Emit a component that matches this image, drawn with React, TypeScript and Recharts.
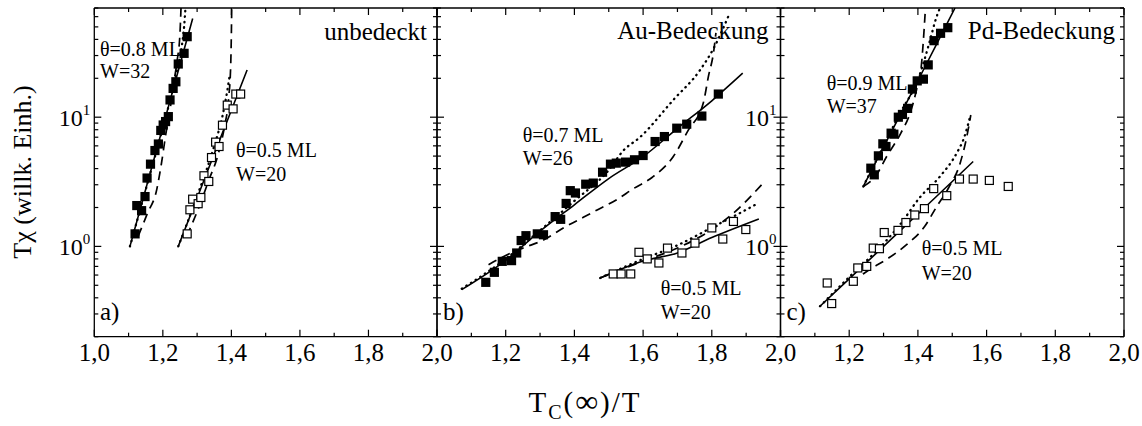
import React from 'react';
import { ComposedChart, Line, Scatter, XAxis, YAxis } from 'recharts';

const W = 1142;
const H = 426;
const PLOT_TOP = 8;
const PLOT_BOTTOM = 336.7;
const FONT = '"Liberation Serif", "Times New Roman", Times, serif';

type P = { x: number; y: number };

// ---------- tick values ----------
const xTickValues = [1.0, 1.1, 1.2, 1.3, 1.4, 1.5, 1.6, 1.7, 1.8, 1.9, 2.0];
const yTickValues = [0.2, 0.3, 0.4, 0.5, 0.6, 0.7, 0.8, 0.9, 1, 2, 3, 4, 5, 6, 7, 8, 9, 10, 20, 30, 40, 50, 60, 70];

// ---------- panel a (unbedeckt) ----------
const aFilled: P[] = [
  { x: 1.119, y: 1.25 }, { x: 1.124, y: 2.07 }, { x: 1.138, y: 1.89 }, { x: 1.148, y: 2.43 },
  { x: 1.154, y: 3.38 }, { x: 1.164, y: 4.33 }, { x: 1.177, y: 5.52 }, { x: 1.187, y: 6.2 },
  { x: 1.194, y: 7.9 }, { x: 1.201, y: 8.7 }, { x: 1.208, y: 9.25 }, { x: 1.216, y: 10.1 },
  { x: 1.221, y: 13.6 }, { x: 1.23, y: 16.7 }, { x: 1.238, y: 18.8 }, { x: 1.245, y: 25.8 },
  { x: 1.262, y: 31.2 }, { x: 1.271, y: 42 },
];
const aOpen: P[] = [
  { x: 1.271, y: 1.25 }, { x: 1.279, y: 1.92 }, { x: 1.287, y: 2.32 }, { x: 1.303, y: 2.14 },
  { x: 1.311, y: 2.39 }, { x: 1.32, y: 3.52 }, { x: 1.334, y: 3.18 }, { x: 1.342, y: 4.87 },
  { x: 1.354, y: 6.41 }, { x: 1.364, y: 5.93 }, { x: 1.374, y: 8.67 }, { x: 1.388, y: 12.4 },
  { x: 1.405, y: 11.6 }, { x: 1.413, y: 15.1 }, { x: 1.427, y: 15.1 },
];
const aFilledSolid: P[] = [
  { x: 1.104, y: 1.0 }, { x: 1.15, y: 2.77 }, { x: 1.2, y: 8.4 }, { x: 1.25, y: 25.6 }, { x: 1.287, y: 58 },
];
const aFilledDashed: P[] = [
  { x: 1.128, y: 1.2 }, { x: 1.155, y: 1.8 }, { x: 1.182, y: 2.74 }, { x: 1.196, y: 4.4 },
  { x: 1.209, y: 7.5 }, { x: 1.221, y: 11.4 }, { x: 1.23, y: 17.2 }, { x: 1.242, y: 27.7 },
  { x: 1.25, y: 44.6 }, { x: 1.253, y: 70 },
];
const aFilledDotted: P[] = [
  { x: 1.104, y: 1.0 }, { x: 1.15, y: 2.75 }, { x: 1.2, y: 8.3 }, { x: 1.24, y: 22 },
  { x: 1.255, y: 35 }, { x: 1.262, y: 50 }, { x: 1.266, y: 70 },
];
const aOpenSolid: P[] = [
  { x: 1.245, y: 1.0 }, { x: 1.3, y: 2.37 }, { x: 1.35, y: 5.2 }, { x: 1.4, y: 11.3 }, { x: 1.446, y: 23.2 },
];
const aOpenDashed: P[] = [
  { x: 1.27, y: 1.2 }, { x: 1.308, y: 2.1 }, { x: 1.335, y: 3.3 }, { x: 1.36, y: 5.0 },
  { x: 1.38, y: 8.5 }, { x: 1.392, y: 14 }, { x: 1.398, y: 25 }, { x: 1.4, y: 45 }, { x: 1.401, y: 70 },
];
const aOpenDotted: P[] = [
  { x: 1.245, y: 1.0 }, { x: 1.3, y: 2.45 }, { x: 1.35, y: 6.0 }, { x: 1.375, y: 10.5 },
  { x: 1.388, y: 16 }, { x: 1.395, y: 21 },
];

// ---------- panel b (Au-Bedeckung) ----------
const bFilled: P[] = [
  { x: 1.142, y: 0.527 }, { x: 1.167, y: 0.63 }, { x: 1.19, y: 0.766 }, { x: 1.217, y: 0.776 },
  { x: 1.232, y: 0.889 }, { x: 1.245, y: 1.11 }, { x: 1.259, y: 1.21 }, { x: 1.292, y: 1.25 },
  { x: 1.31, y: 1.23 }, { x: 1.344, y: 1.7 }, { x: 1.36, y: 1.62 }, { x: 1.376, y: 2.15 },
  { x: 1.388, y: 2.7 }, { x: 1.403, y: 2.59 }, { x: 1.433, y: 3.03 }, { x: 1.455, y: 3.09 },
  { x: 1.482, y: 3.75 }, { x: 1.505, y: 4.33 }, { x: 1.522, y: 4.41 }, { x: 1.549, y: 4.49 },
  { x: 1.575, y: 4.68 }, { x: 1.6, y: 5.05 }, { x: 1.635, y: 6.48 }, { x: 1.662, y: 7.08 },
  { x: 1.698, y: 8.22 }, { x: 1.727, y: 8.83 }, { x: 1.771, y: 10.2 }, { x: 1.819, y: 15.1 },
];
const bOpen: P[] = [
  { x: 1.513, y: 0.612 }, { x: 1.536, y: 0.612 }, { x: 1.564, y: 0.612 }, { x: 1.588, y: 0.9 },
  { x: 1.612, y: 0.8 }, { x: 1.646, y: 0.744 }, { x: 1.671, y: 0.97 }, { x: 1.713, y: 0.889 },
  { x: 1.751, y: 1.06 }, { x: 1.8, y: 1.39 }, { x: 1.832, y: 1.14 }, { x: 1.863, y: 1.56 },
  { x: 1.899, y: 1.35 },
];
const bFilledSolid: P[] = [
  { x: 1.072, y: 0.463 }, { x: 1.2, y: 0.78 }, { x: 1.3, y: 1.31 }, { x: 1.4, y: 2.1 },
  { x: 1.5, y: 3.35 }, { x: 1.6, y: 4.95 }, { x: 1.7, y: 8.2 }, { x: 1.8, y: 13.4 }, { x: 1.89, y: 21.9 },
];
const bFilledDashed: P[] = [
  { x: 1.15, y: 0.72 }, { x: 1.2, y: 0.85 }, { x: 1.25, y: 0.97 }, { x: 1.31, y: 1.12 },
  { x: 1.37, y: 1.4 }, { x: 1.426, y: 1.68 }, { x: 1.472, y: 1.95 }, { x: 1.523, y: 2.3 },
  { x: 1.572, y: 2.8 }, { x: 1.625, y: 3.4 }, { x: 1.688, y: 4.96 }, { x: 1.732, y: 7.98 },
  { x: 1.775, y: 12.8 }, { x: 1.79, y: 20.6 }, { x: 1.806, y: 33 }, { x: 1.812, y: 45 },
];
const bFilledDotted: P[] = [
  { x: 1.072, y: 0.47 }, { x: 1.2, y: 0.8 }, { x: 1.3, y: 1.33 }, { x: 1.4, y: 2.25 },
  { x: 1.5, y: 3.9 }, { x: 1.542, y: 5.5 }, { x: 1.591, y: 7.0 }, { x: 1.688, y: 13.6 },
  { x: 1.766, y: 23.2 }, { x: 1.805, y: 34 }, { x: 1.85, y: 62 },
];
const bOpenSolid: P[] = [
  { x: 1.475, y: 0.57 }, { x: 1.6, y: 0.77 }, { x: 1.7, y: 0.89 }, { x: 1.8, y: 1.17 }, { x: 1.937, y: 1.63 },
];
const bOpenDashed: P[] = [
  { x: 1.475, y: 0.57 }, { x: 1.6, y: 0.77 }, { x: 1.7, y: 0.97 }, { x: 1.8, y: 1.35 },
  { x: 1.863, y: 1.81 }, { x: 1.95, y: 3.1 },
];
const bOpenDotted: P[] = [
  { x: 1.475, y: 0.57 }, { x: 1.6, y: 0.8 }, { x: 1.7, y: 1.02 }, { x: 1.8, y: 1.4 },
  { x: 1.88, y: 1.8 }, { x: 1.935, y: 2.16 },
];

// ---------- panel c (Pd-Bedeckung) ----------
const cFilled: P[] = [
  { x: 1.263, y: 4.03 }, { x: 1.273, y: 3.58 }, { x: 1.285, y: 5.02 }, { x: 1.298, y: 6.22 },
  { x: 1.307, y: 5.93 }, { x: 1.322, y: 7.52 }, { x: 1.33, y: 7.39 }, { x: 1.343, y: 10.0 },
  { x: 1.355, y: 10.5 }, { x: 1.37, y: 11.7 }, { x: 1.384, y: 16.5 }, { x: 1.398, y: 19.1 },
  { x: 1.416, y: 19.7 }, { x: 1.43, y: 25.4 }, { x: 1.447, y: 39.1 }, { x: 1.466, y: 44.6 },
  { x: 1.487, y: 49.3 },
];
const cOpen: P[] = [
  { x: 1.136, y: 0.521 }, { x: 1.149, y: 0.361 }, { x: 1.212, y: 0.537 }, { x: 1.225, y: 0.681 },
  { x: 1.251, y: 0.7 }, { x: 1.27, y: 0.97 }, { x: 1.288, y: 0.96 }, { x: 1.302, y: 1.28 },
  { x: 1.342, y: 1.33 }, { x: 1.365, y: 1.53 }, { x: 1.391, y: 1.75 }, { x: 1.419, y: 1.96 },
  { x: 1.446, y: 2.8 }, { x: 1.484, y: 2.47 }, { x: 1.521, y: 3.32 }, { x: 1.561, y: 3.32 },
  { x: 1.608, y: 3.24 }, { x: 1.663, y: 2.91 },
];
const cFilledSolid: P[] = [
  { x: 1.241, y: 2.91 }, { x: 1.3, y: 5.9 }, { x: 1.35, y: 10.6 }, { x: 1.4, y: 19.2 },
  { x: 1.45, y: 34.8 }, { x: 1.508, y: 70 },
];
const cFilledDashed: P[] = [
  { x: 1.241, y: 2.91 }, { x: 1.28, y: 3.6 }, { x: 1.309, y: 4.96 }, { x: 1.35, y: 7.5 },
  { x: 1.377, y: 10.7 }, { x: 1.396, y: 16.3 }, { x: 1.41, y: 25 }, { x: 1.416, y: 39.5 }, { x: 1.422, y: 70 },
];
const cFilledDotted: P[] = [
  { x: 1.241, y: 2.91 }, { x: 1.3, y: 6.0 }, { x: 1.35, y: 11 }, { x: 1.4, y: 19.5 },
  { x: 1.436, y: 40 }, { x: 1.45, y: 55 }, { x: 1.464, y: 70 },
];
const cOpenSolid: P[] = [
  { x: 1.115, y: 0.344 }, { x: 1.2, y: 0.561 }, { x: 1.3, y: 1.0 }, { x: 1.4, y: 1.78 },
  { x: 1.5, y: 3.18 }, { x: 1.561, y: 4.54 },
];
const cOpenDashed: P[] = [
  { x: 1.24, y: 0.61 }, { x: 1.251, y: 0.64 }, { x: 1.314, y: 0.81 }, { x: 1.367, y: 1.03 },
  { x: 1.42, y: 1.43 }, { x: 1.455, y: 2.04 }, { x: 1.489, y: 2.83 }, { x: 1.523, y: 4.41 },
  { x: 1.542, y: 7.0 }, { x: 1.554, y: 10.4 },
];
const cOpenDotted: P[] = [
  { x: 1.115, y: 0.344 }, { x: 1.2, y: 0.58 }, { x: 1.3, y: 1.05 }, { x: 1.35, y: 1.5 },
  { x: 1.406, y: 2.4 }, { x: 1.464, y: 3.47 }, { x: 1.513, y: 5.27 }, { x: 1.535, y: 7 }, { x: 1.552, y: 10.1 },
];

// ---------- text ----------
const panelTitles = ['unbedeckt', 'Au-Bedeckung', 'Pd-Bedeckung'];
const panelLetters = ['a)', 'b)', 'c)'];
const annotations = [
  ['θ=0.8 ML', 'W=32'], ['θ=0.5 ML', 'W=20'],
  ['θ=0.7 ML', 'W=26'], ['θ=0.5 ML', 'W=20'],
  ['θ=0.9 ML', 'W=37'], ['θ=0.5 ML', 'W=20'],
];
const yAxisLabel = 'Tχ (willk. Einh.)';

type Style = 'solid' | 'dash' | 'dot';
type PanelDef = {
  left: number; right: number; firstLabel: boolean; yLabels: boolean;
  lines: { data: P[]; style: Style }[]; filled: P[]; open: P[];
};

const panels: PanelDef[] = [
  {
    left: 94.3, right: 437, firstLabel: true, yLabels: true,
    lines: [
      { data: aFilledSolid, style: 'solid' }, { data: aFilledDashed, style: 'dash' }, { data: aFilledDotted, style: 'dot' },
      { data: aOpenSolid, style: 'solid' }, { data: aOpenDashed, style: 'dash' }, { data: aOpenDotted, style: 'dot' },
    ],
    filled: aFilled, open: aOpen,
  },
  {
    left: 437, right: 780.5, firstLabel: false, yLabels: false,
    lines: [
      { data: bFilledSolid, style: 'solid' }, { data: bFilledDashed, style: 'dash' }, { data: bFilledDotted, style: 'dot' },
      { data: bOpenSolid, style: 'solid' }, { data: bOpenDashed, style: 'dash' }, { data: bOpenDotted, style: 'dot' },
    ],
    filled: bFilled, open: bOpen,
  },
  {
    left: 780.5, right: 1124, firstLabel: false, yLabels: true,
    lines: [
      { data: cFilledSolid, style: 'solid' }, { data: cFilledDashed, style: 'dash' }, { data: cFilledDotted, style: 'dot' },
      { data: cOpenSolid, style: 'solid' }, { data: cOpenDashed, style: 'dash' }, { data: cOpenDotted, style: 'dot' },
    ],
    filled: cFilled, open: cOpen,
  },
];

const isMajorX = (v: number) => Math.round(v * 10) % 2 === 0;
const isMajorY = (v: number) => v === 1 || v === 10;

function bottomTick(showFirst: boolean) {
  return (props: any) => {
    const { x, payload } = props;
    const v = payload.value as number;
    const major = isMajorX(v);
    const len = major ? 7 : 4;
    const showLabel = major && (showFirst || Math.round(v * 10) !== 10);
    return (
      <g>
        <line x1={x} x2={x} y1={PLOT_BOTTOM} y2={PLOT_BOTTOM - len} stroke="#000" strokeWidth={1.2} />
        {showLabel && (
          <text x={x} y={PLOT_BOTTOM + 24.5} textAnchor="middle" fontFamily={FONT} fontSize={25} fill="#000">
            {v.toFixed(1).replace('.', ',')}
          </text>
        )}
      </g>
    );
  };
}

function topTick(props: any) {
  const { x, payload } = props;
  const len = isMajorX(payload.value) ? 7 : 4;
  return <line x1={x} x2={x} y1={PLOT_TOP} y2={PLOT_TOP + len} stroke="#000" strokeWidth={1.2} />;
}

function leftTick(left: number, labels: boolean) {
  return (props: any) => {
    const { y, payload } = props;
    const v = payload.value as number;
    const major = isMajorY(v);
    const len = major ? 7 : 4;
    return (
      <g>
        <line x1={left} x2={left + len} y1={y} y2={y} stroke="#000" strokeWidth={1.2} />
        {labels && major && (
          <text x={left - 4} y={y + 9} textAnchor="end" fontFamily={FONT} fontSize={24} fill="#000">
            10<tspan dy={-11} fontSize={15}>{v === 1 ? '0' : '1'}</tspan>
          </text>
        )}
      </g>
    );
  };
}

function rightTick(right: number) {
  return (props: any) => {
    const { y, payload } = props;
    const len = isMajorY(payload.value) ? 7 : 4;
    return <line x1={right} x2={right - len} y1={y} y2={y} stroke="#000" strokeWidth={1.2} />;
  };
}

const FilledSquare = (props: any) => {
  const { cx, cy } = props;
  return <rect x={cx - 4.6} y={cy - 4.6} width={9.2} height={9.2} fill="#000" />;
};
const OpenSquare = (props: any) => {
  const { cx, cy } = props;
  return <rect x={cx - 4} y={cy - 4} width={8} height={8} fill="#fff" stroke="#000" strokeWidth={1.2} />;
};

const axisLineStyle = { stroke: '#000', strokeWidth: 1.3 };

function lineStyle(s: Style) {
  if (s === 'dash') return { strokeWidth: 1.7, strokeDasharray: '9 6', strokeLinecap: 'butt' as const };
  if (s === 'dot') return { strokeWidth: 2.3, strokeDasharray: '0.5 5', strokeLinecap: 'round' as const };
  return { strokeWidth: 1.6, strokeDasharray: undefined, strokeLinecap: 'butt' as const };
}

function Panel({ p, idx }: { p: PanelDef; idx: number }) {
  return (
    <div style={{ position: 'absolute', left: 0, top: 0 }}>
      <ComposedChart
        width={W}
        height={H}
        margin={{ top: PLOT_TOP - 1, bottom: H - PLOT_BOTTOM - 1, left: p.left - 1, right: W - p.right - 1 }}
      >
        <XAxis
          xAxisId="b" dataKey="x" type="number" domain={[1, 2]} allowDataOverflow
          ticks={xTickValues} interval={0} orientation="bottom" height={1}
          tickSize={0} tickMargin={0} tickLine={false} axisLine={axisLineStyle}
          tick={bottomTick(p.firstLabel)}
        />
        <XAxis
          xAxisId="t" dataKey="x" type="number" domain={[1, 2]} allowDataOverflow
          ticks={xTickValues} interval={0} orientation="top" height={1}
          tickSize={0} tickMargin={0} tickLine={false} axisLine={axisLineStyle}
          tick={topTick}
        />
        <YAxis
          yAxisId="l" dataKey="y" type="number" scale="log" domain={[0.2, 70]} allowDataOverflow
          ticks={yTickValues} interval={0} orientation="left" width={1}
          tickSize={0} tickMargin={0} tickLine={false} axisLine={axisLineStyle}
          tick={leftTick(p.left, p.yLabels)}
        />
        <YAxis
          yAxisId="r" dataKey="y" type="number" scale="log" domain={[0.2, 70]} allowDataOverflow
          ticks={yTickValues} interval={0} orientation="right" width={1}
          tickSize={0} tickMargin={0} tickLine={false} axisLine={axisLineStyle}
          tick={rightTick(p.right)}
        />
        {p.lines.map((l, i) => {
          const st = lineStyle(l.style);
          return (
            <Line
              key={`l${idx}-${i}`}
              xAxisId="b" yAxisId="l"
              data={l.data} dataKey="y" type="monotone" dot={false} activeDot={false}
              stroke="#000" strokeWidth={st.strokeWidth} strokeDasharray={st.strokeDasharray}
              strokeLinecap={st.strokeLinecap}
              isAnimationActive={false}
            />
          );
        })}
        <Scatter xAxisId="b" yAxisId="l" data={p.open} shape={OpenSquare} isAnimationActive={false} />
        <Scatter xAxisId="b" yAxisId="l" data={p.filled} shape={FilledSquare} isAnimationActive={false} />
      </ComposedChart>
    </div>
  );
}

const annotationPos: [number, number, number][] = [
  [100, 56, 78], [236, 157, 181],
  [522.7, 141.7, 165], [660.7, 295, 318.5],
  [826.7, 90, 113.3], [921.7, 255, 279.5],
];
const titlePos: [number, number][] = [[427, 40], [768.5, 39], [1115, 39]];
const letterPos: [number, number][] = [[100, 319.5], [443, 320], [786.5, 320]];

export default function App() {
  return (
    <div style={{ position: 'absolute', left: 0, top: 0, width: W, height: H, background: '#fff' }}>
      {panels.map((p, i) => (
        <Panel key={i} p={p} idx={i} />
      ))}
      <svg width={W} height={H} style={{ position: 'absolute', left: 0, top: 0, pointerEvents: 'none' }}>
        <g fontFamily={FONT} fill="#000">
          {panelTitles.map((t, i) => (
            <text key={t} x={titlePos[i][0]} y={titlePos[i][1]} textAnchor="end" fontSize={25}>{t}</text>
          ))}
          {panelLetters.map((t, i) => (
            <text key={t} x={letterPos[i][0]} y={letterPos[i][1]} fontSize={25}>{t}</text>
          ))}
          {annotations.map((a, i) => (
            <g key={i}>
              <text x={annotationPos[i][0]} y={annotationPos[i][1]} fontSize={20}>{a[0]}</text>
              <text x={annotationPos[i][0]} y={annotationPos[i][2]} fontSize={20}>{a[1]}</text>
            </g>
          ))}
          <text x={31} y={172} fontSize={26} textAnchor="middle" transform="rotate(-90 31 172)">{yAxisLabel}</text>
          <text x={585} y={412} fontSize={29} textAnchor="middle" letterSpacing={2}>
            T<tspan dy={7} fontSize={20}>C</tspan><tspan dy={-7}>(</tspan><tspan fontSize={32}>∞</tspan><tspan>)/T</tspan>
          </text>
        </g>
      </svg>
    </div>
  );
}
